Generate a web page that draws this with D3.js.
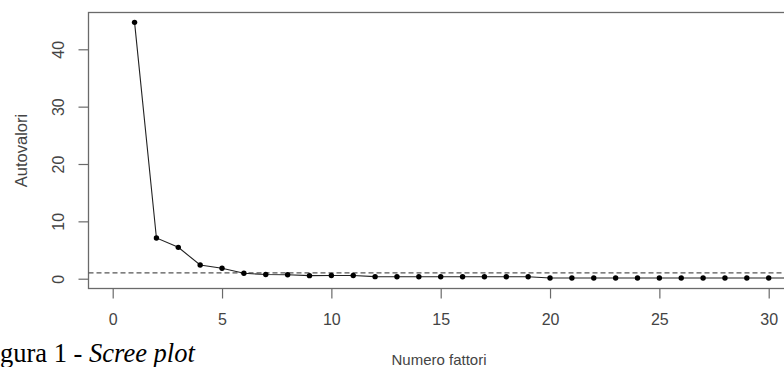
<!DOCTYPE html>
<html><head><meta charset="utf-8">
<script src="https://cdn.jsdelivr.net/npm/d3@7"></script>
<style>
html,body{margin:0;padding:0;background:#fff;overflow:hidden;}
svg{display:block;}
</style></head>
<body>
<svg id="c" width="784" height="367"></svg>
<script>
const factors = d3.range(1, 32);
const eigenvalues = [44.7, 7.1, 5.47, 2.39, 1.81, 0.94, 0.72, 0.70, 0.53, 0.55, 0.55,
  0.36, 0.35, 0.35, 0.35, 0.35, 0.35, 0.35, 0.35, 0.12, 0.12, 0.12, 0.12, 0.12, 0.12,
  0.12, 0.12, 0.12, 0.12, 0.12, 0.12];
const xTicks = [0, 5, 10, 15, 20, 25, 30];
const yTicks = [0, 10, 20, 30, 40];
const threshold = 1;
const xLabel = "Numero fattori";
const yLabel = "Autovalori";

const svg = d3.select("#c");
const x = d3.scaleLinear().domain([0, 30]).range([112.7, 768.7]);
const y = d3.scaleLinear().domain([0, 40]).range([278.7, 49.3]);
const box = {left: 88.5, top: 12.5, right: 800, bottom: 288.5};
const axisCol = "#6a6a6a", textCol = "#444";
const sans = "Liberation Sans, Arial, sans-serif";

// box
svg.append("rect").attr("x", box.left).attr("y", box.top)
  .attr("width", box.right - box.left).attr("height", box.bottom - box.top)
  .attr("fill", "none").attr("stroke", axisCol).attr("stroke-width", 1.3);

// x axis
const gx = svg.append("g").attr("transform", `translate(0,${box.bottom})`)
  .call(d3.axisBottom(x).tickValues(xTicks).tickSize(10).tickPadding(15.5).tickSizeOuter(0));
gx.select(".domain").remove();
gx.selectAll("line").attr("stroke", axisCol).attr("stroke-width", 1.2);
gx.selectAll("text").attr("fill", textCol).attr("font-family", sans).attr("font-size", 16);

// y axis
const gy = svg.append("g").attr("transform", `translate(${box.left},0)`)
  .call(d3.axisLeft(y).tickValues(yTicks).tickSize(10).tickPadding(0).tickSizeOuter(0));
gy.select(".domain").remove();
gy.selectAll("line").attr("stroke", axisCol).attr("stroke-width", 1.2);
gy.selectAll("text").attr("fill", textCol).attr("font-family", sans).attr("font-size", 16)
  .attr("x", null)
  .attr("text-anchor", "middle")
  .attr("transform", `translate(-30,0) rotate(-90)`)
  .attr("dy", "0.35em");

// threshold dashed line
svg.append("line").attr("x1", box.left).attr("x2", box.right)
  .attr("y1", y(threshold)).attr("y2", y(threshold))
  .attr("stroke", "#555").attr("stroke-width", 1.2).attr("stroke-dasharray", "5,3");

// data line
const data = factors.map((f, i) => ({f, v: eigenvalues[i]}));
svg.append("path").datum(data)
  .attr("fill", "none").attr("stroke", "#222").attr("stroke-width", 1.1)
  .attr("d", d3.line().x(d => x(d.f)).y(d => y(d.v)));
svg.selectAll("circle.pt").data(data).enter().append("circle")
  .attr("class", "pt").attr("cx", d => x(d.f)).attr("cy", d => y(d.v))
  .attr("r", 2.7).attr("fill", "#000");

// axis titles
svg.append("text").attr("x", 439).attr("y", 364.5).attr("text-anchor", "middle")
  .attr("fill", textCol).attr("font-family", sans).attr("font-size", 15)
  .text(xLabel);
svg.append("text").attr("transform", `translate(27,150.5) rotate(-90)`).attr("text-anchor", "middle")
  .attr("fill", textCol).attr("font-family", sans).attr("font-size", 16.5)
  .text(yLabel);

// caption (partially cut on the left in the reference)
const cap = svg.append("text").attr("x", 0).attr("y", 361.5)
  .attr("font-family", "Liberation Serif, Times New Roman, serif").attr("font-size", 26.5).attr("fill", "#000");
cap.append("tspan").text("gura 1 - ");
cap.append("tspan").attr("font-style", "italic").text("Scree plot");
</script>
</body></html>
